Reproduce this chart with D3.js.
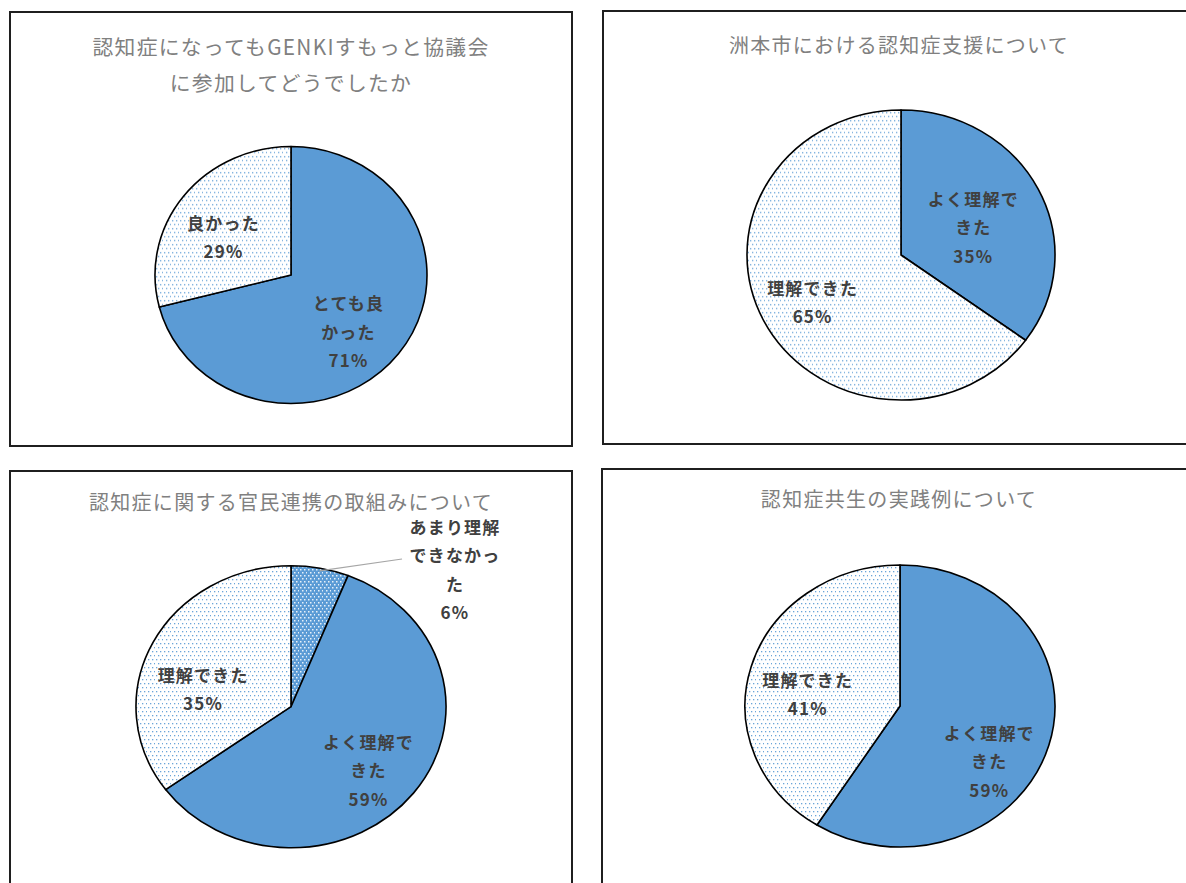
<!DOCTYPE html>
<html>
<head>
<meta charset="utf-8">
<script src="https://cdn.jsdelivr.net/npm/d3@7/dist/d3.min.js"></script>
<style>
  html, body { margin: 0; padding: 0; background: #fff; }
  svg { display: block; }
</style>
</head>
<body>
<svg id="chart" width="1186" height="883"></svg>
<script>
// ---------- DATA ----------
const title1 = ["認知症になってもGENKIすもっと協議会", "に参加してどうでしたか"];
const cats1 = ["とても良かった", "良かった"];
const vals1 = [71, 29];

const title2 = ["洲本市における認知症支援について"];
const cats2 = ["よく理解できた", "理解できた"];
const vals2 = [35, 65];

const title3 = ["認知症に関する官民連携の取組みについて"];
const cats3 = ["あまり理解できなかった", "よく理解できた", "理解できた"];
const vals3 = [6, 59, 35];

const title4 = ["認知症共生の実践例について"];
const cats4 = ["よく理解できた", "理解できた"];
const vals4 = [59, 41];

// label line wrapping (as in the original data labels)
const wrapLines = {
  "とても良かった": ["とても良", "かった"],
  "良かった": ["良かった"],
  "よく理解できた": ["よく理解で", "きた"],
  "理解できた": ["理解できた"],
  "あまり理解できなかった": ["あまり理解", "できなかっ", "た"]
};

// ---------- STYLE / LAYOUT ----------
const fillKind = {
  "とても良かった": "solid",
  "よく理解できた": "solid",
  "良かった": "dots",
  "理解できた": "dots",
  "あまり理解できなかった": "dense"
};

const layouts = [
  { title: title1, cats: cats1, vals: vals1, panel: [10, 12, 572, 446], tx: 291, ty: [46, 82], tfs: 20.8,
    cx: 291, cy: 275, rx: 136, ry: 128.5, nudge: [[-7, 9], [-3, 9]] },
  { title: title2, cats: cats2, vals: vals2, panel: [603, 11, 1200, 444], tx: 899, ty: [44.5], tfs: 20,
    cx: 901, cy: 255, rx: 154, ry: 145, nudge: [[-10, 11], [-6, 7]] },
  { title: title3, cats: cats3, vals: vals3, panel: [10, 471, 572, 900], tx: 291, ty: [501.5], tfs: 20,
    cx: 291, cy: 706.7, rx: 155, ry: 141, nudge: [[146.6, -54.6], [4, 11], [-5, 20]], leader: 0 },
  { title: title4, cats: cats4, vals: vals4, panel: [602, 469, 1200, 900], tx: 899, ty: [498.5], tfs: 20,
    cx: 900, cy: 706, rx: 155, ry: 141, nudge: [[0, 31], [-3, 11]] }
];

const BLUE = "#5B9BD5";
const svg = d3.select("#chart");
svg.append("rect").attr("width", 1186).attr("height", 883).attr("fill", "#fff");
const defs = svg.append("defs");

function makePatterns(id, sy, cx, cy) {
  const tf = `scale(1,${1 / sy}) translate(${-(cx % 1)},${-(cy % 1)})`;
  const pDots = defs.append("pattern").attr("id", "dots" + id)
    .attr("patternUnits", "userSpaceOnUse").attr("width", 8).attr("height", 8)
    .attr("patternTransform", tf);
  pDots.append("rect").attr("width", 8).attr("height", 8).attr("fill", "#fff");
  [[1,1],[5,1],[3,5],[7,5]].forEach(([x,y]) =>
    pDots.append("rect").attr("x", x).attr("y", y).attr("width", 1.3).attr("height", 1.3)
      .attr("fill", BLUE).attr("opacity", 0.9));

  const pDense = defs.append("pattern").attr("id", "dense" + id)
    .attr("patternUnits", "userSpaceOnUse").attr("width", 8).attr("height", 6)
    .attr("patternTransform", tf);
  pDense.append("rect").attr("width", 8).attr("height", 6).attr("fill", BLUE);
  [[1,1],[5,1],[3,4],[7,4]].forEach(([x,y]) =>
    pDense.append("rect").attr("x", x).attr("y", y).attr("width", 1.5).attr("height", 1.5)
      .attr("fill", "#fff").attr("opacity", 0.85));
}

const pie = d3.pie().sort(null).value(d => d.v).startAngle(0).endAngle(2 * Math.PI);
const LINE = 28.5;

layouts.forEach((L, li) => {
  const [x0, y0, x1, y1] = L.panel;
  svg.append("rect").attr("x", x0).attr("y", y0).attr("width", x1 - x0).attr("height", y1 - y0)
    .attr("fill", "none").attr("stroke", "#1f1f1f").attr("stroke-width", 2);

  // title
  L.title.forEach((t, i) => {
    svg.append("text").attr("x", L.tx).attr("y", L.ty[i])
      .attr("text-anchor", "middle").attr("dominant-baseline", "central")
      .attr("font-family", "'Noto Sans CJK JP', 'Noto Sans', sans-serif")
      .attr("font-size", L.tfs).attr("letter-spacing", 1.3)
      .attr("fill", "#808080").text(t);
  });

  const sy = L.ry / L.rx;
  makePatterns(li, sy, L.cx, L.cy);
  const fillFor = k => k === "solid" ? BLUE : (k === "dots" ? `url(#dots${li})` : `url(#dense${li})`);

  const data = L.cats.map((c, i) => ({ c, v: L.vals[i] }));
  const arcs = pie(data);
  const arc = d3.arc().innerRadius(0).outerRadius(L.rx);
  const labelArc = d3.arc().innerRadius(L.rx * 0.6).outerRadius(L.rx * 0.6);

  const g = svg.append("g").attr("transform", `translate(${L.cx},${L.cy}) scale(1,${sy})`);
  g.selectAll("path").data(arcs).join("path")
    .attr("d", arc)
    .attr("fill", d => fillFor(fillKind[d.data.c]))
    .attr("stroke", "#000").attr("stroke-width", 1.6)
    .attr("stroke-linejoin", "round")
    .attr("vector-effect", "non-scaling-stroke");

  arcs.forEach((d, i) => {
    const [ax, ay] = labelArc.centroid(d);
    const lx = L.cx + ax + L.nudge[i][0];
    const ly = L.cy + ay * sy + L.nudge[i][1];
    const lines = wrapLines[d.data.c].concat([d.data.v + "%"]);
    const n = lines.length;
    lines.forEach((t, j) => {
      svg.append("text").attr("x", lx).attr("y", ly + (j - (n - 1) / 2) * LINE)
        .attr("text-anchor", "middle").attr("dominant-baseline", "central")
        .attr("font-family", "'Noto Sans CJK JP', 'Noto Sans', sans-serif")
        .attr("font-weight", 700).attr("font-size", 17).attr("letter-spacing", 1.2)
        .attr("fill", "#404040").text(t);
    });
    if (L.leader === i) {
      const mid = (d.startAngle + d.endAngle) / 2;
      const sx = L.cx + L.rx * 0.98 * Math.sin(mid);
      const syy = L.cy - L.rx * 0.98 * Math.cos(mid) * sy;
      svg.append("line").attr("x1", sx).attr("y1", syy)
        .attr("x2", lx - 53).attr("y2", ly - 10)
        .attr("stroke", "#a6a6a6").attr("stroke-width", 1.2);
    }
  });
});
</script>
</body>
</html>
